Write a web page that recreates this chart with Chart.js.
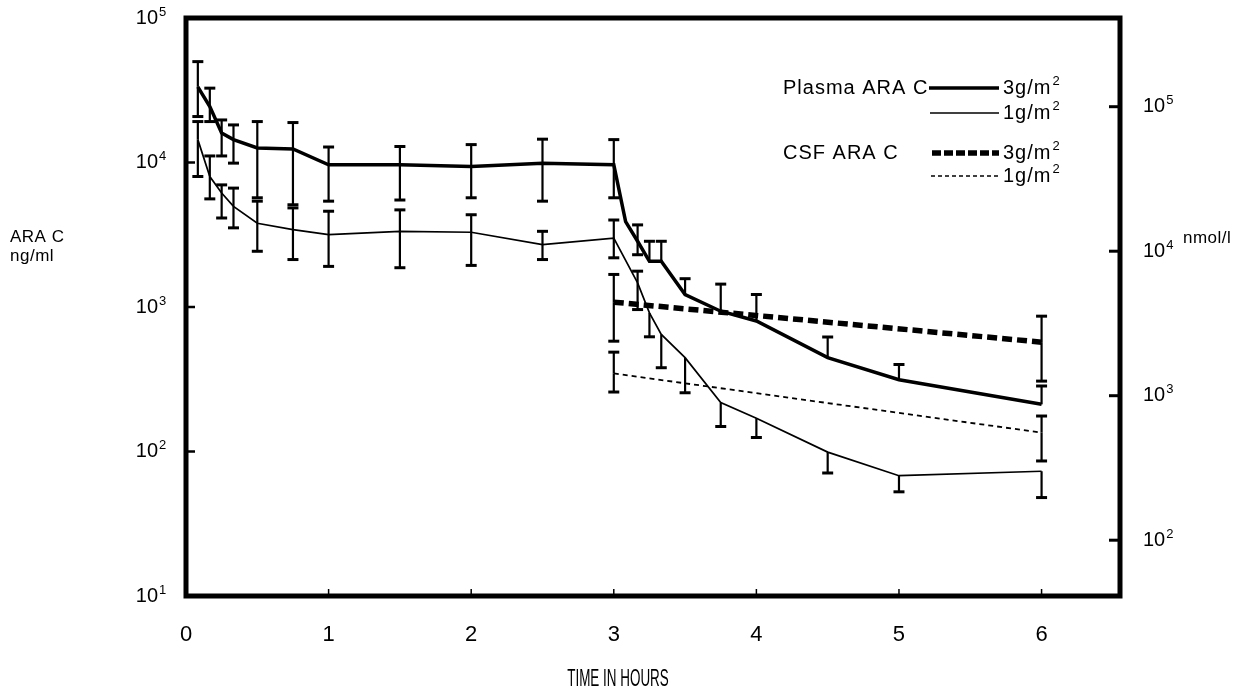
<!DOCTYPE html>
<html>
<head>
<meta charset="utf-8">
<script src="https://cdn.jsdelivr.net/npm/chart.js@4.4.1/dist/chart.umd.min.js"></script>
<style>
html,body{margin:0;padding:0;background:#fff;}
#wrap{width:1256px;height:691px;}
</style>
</head>
<body>
<div id="wrap"><canvas id="c" width="1256" height="691"></canvas></div>
<script>
// ---- data (time in hours, concentration in ng/ml) ----
const plasma3Time = [0.083, 0.167, 0.25, 0.333, 0.5, 0.75, 1, 1.5, 2, 2.5, 3, 3.083, 3.167, 3.25, 3.333, 3.5, 3.75, 4, 4.5, 5, 6];
const plasma3Mean = [33400, 24400, 16000, 14400, 12600, 12400, 9650, 9650, 9400, 9900, 9650, 3900, 2850, 2070, 2070, 1220, 935, 800, 446, 314, 212];
const plasma3High = [49900, 32700, 19700, 18200, 19200, 18900, 12800, 12900, 13300, 14500, 14400, null, 3700, 2850, 2850, 1570, 1440, 1220, 620, 400, 284];
const plasma3Low  = [20800, 19200, 11100, 9900, 5700, 5100, 5400, 5500, 5700, 5400, 5700, null, 2300, null, null, null, null, null, null, null, null];

const plasma1Time = [0.083, 0.167, 0.25, 0.333, 0.5, 0.75, 1, 1.5, 2, 2.5, 3, 3.167, 3.25, 3.333, 3.5, 3.75, 4, 4.5, 5, 6];
const plasma1Mean = [14400, 8000, 6150, 4970, 3800, 3430, 3170, 3340, 3290, 2700, 3000, 1470, 910, 646, 446, 218, 170, 99, 68, 73];
const plasma1High = [19200, 11100, 7000, 6650, 5400, 4850, 4600, 4700, 4350, 3340, 4000, 1770, null, null, null, null, null, null, null, null];
const plasma1Low  = [8000, 5600, 4130, 3530, 2430, 2130, 1910, 1870, 1940, 2130, 2190, 960, 622, 380, 255, 149, 125, 71, 52.6, 48];

const csf3Time = [3, 6];
const csf3Mean = [1080, 571];
const csf3High = [1680, 864];
const csf3Low  = [580, 307];

const csf1Time = [3, 6];
const csf1Mean = [347, 135];
const csf1High = [487, 176];
const csf1Low  = [258, 86];

const xTickValues = [0, 1, 2, 3, 4, 5, 6];
const yTickValues = [10, 100, 1000, 10000, 100000];
const y2TickValues = [100, 1000, 10000, 100000];
const NMOL_PER_NG = 4.11; // ARA-C molecular weight 243 g/mol

const FONT = "'Liberation Sans', Arial, Helvetica, sans-serif";
const TICK_SIZE = 20;
const EXP_SIZE = 13;

function pts(t, v){ return t.map((x,i)=>({x:x, y:v[i]})); }
function expOf(v){ return String(Math.round(Math.log10(v))); }
function noPad(s){ s.paddingTop = 0; s.paddingBottom = 0; s.paddingLeft = 0; s.paddingRight = 0; }

const datasets = [
  {label:'Plasma ARA C 3g/m\u00b2', data:pts(plasma3Time, plasma3Mean), borderColor:'#000', borderWidth:3.5, pointRadius:0, tension:0,
   errHigh:plasma3High, errLow:plasma3Low, errTime:plasma3Time},
  {label:'Plasma ARA C 1g/m\u00b2', data:pts(plasma1Time, plasma1Mean), borderColor:'#000', borderWidth:1.7, pointRadius:0, tension:0,
   errHigh:plasma1High, errLow:plasma1Low, errTime:plasma1Time},
  {label:'CSF ARA C 3g/m\u00b2', data:pts(csf3Time, csf3Mean), borderColor:'#000', borderWidth:5.5, borderDash:[10,5], pointRadius:0, tension:0,
   errHigh:csf3High, errLow:csf3Low, errTime:csf3Time},
  {label:'CSF ARA C 1g/m\u00b2', data:pts(csf1Time, csf1Mean), borderColor:'#000', borderWidth:1.8, borderDash:[5,4], pointRadius:0, tension:0,
   errHigh:csf1High, errLow:csf1Low, errTime:csf1Time}
];

const errorBars = {
  id:'errorBars',
  afterDatasetsDraw(chart){
    const ctx = chart.ctx, xs = chart.scales.x, ys = chart.scales.y;
    ctx.save();
    ctx.strokeStyle = '#000';
    chart.data.datasets.forEach(ds => {
      ds.errTime.forEach((t,i) => {
        const px = xs.getPixelForValue(t);
        const pm = ys.getPixelForValue(ds.data[i].y);
        const ends = [];
        if (ds.errHigh[i] != null) ends.push(ys.getPixelForValue(ds.errHigh[i]));
        if (ds.errLow[i] != null) ends.push(ys.getPixelForValue(ds.errLow[i]));
        ends.forEach(pe => {
          ctx.lineWidth = 2.2;
          ctx.beginPath(); ctx.moveTo(px, pm); ctx.lineTo(px, pe); ctx.stroke();
          ctx.lineWidth = 3;
          ctx.beginPath(); ctx.moveTo(px-5.5, pe); ctx.lineTo(px+5.5, pe); ctx.stroke();
        });
      });
    });
    ctx.restore();
  }
};

// draws text with a raised exponent, e.g. "3g/m" + "2"
function textWithSup(ctx, base, sup, x, y, size, supSize, spacing){
  ctx.font = size + 'px ' + FONT;
  ctx.letterSpacing = spacing + 'px';
  ctx.fillText(base, x, y);
  const w = ctx.measureText(base).width;
  ctx.font = supSize + 'px ' + FONT;
  ctx.fillText(sup, x + w + 1, y - size * 0.33);
  ctx.letterSpacing = '0px';
}

const frameAndText = {
  id:'frameAndText',
  afterDraw(chart){
    const ctx = chart.ctx, a = chart.chartArea;
    const xs = chart.scales.x, ys = chart.scales.y, y2 = chart.scales.y2;
    ctx.save();
    ctx.strokeStyle = '#000';
    ctx.fillStyle = '#000';
    // frame
    ctx.lineWidth = 5;
    ctx.strokeRect(a.left, a.top, a.right - a.left, a.bottom - a.top);
    // inner ticks left
    ctx.lineWidth = 2.5;
    [100, 1000, 10000].forEach(v => {
      const p = ys.getPixelForValue(v);
      ctx.beginPath(); ctx.moveTo(a.left, p); ctx.lineTo(a.left + 9, p); ctx.stroke();
    });
    // inner ticks right
    ctx.lineWidth = 3;
    y2TickValues.forEach(v => {
      const p = y2.getPixelForValue(v);
      ctx.beginPath(); ctx.moveTo(a.right, p); ctx.lineTo(a.right - 11, p); ctx.stroke();
    });
    // bottom ticks
    ctx.lineWidth = 1.5;
    xTickValues.slice(1).forEach(v => {
      const p = xs.getPixelForValue(v);
      ctx.beginPath(); ctx.moveTo(p, a.bottom); ctx.lineTo(p, a.bottom - 7); ctx.stroke();
    });
    // exponents of the power-of-ten tick labels
    ctx.textBaseline = 'middle';
    ctx.textAlign = 'left';
    ctx.font = EXP_SIZE + 'px ' + FONT;
    const lx = a.left - ys.options.ticks.padding + 1;
    yTickValues.forEach(v => {
      ctx.fillText(expOf(v), lx, ys.getPixelForValue(v) - 6);
    });
    ctx.font = TICK_SIZE + 'px ' + FONT;
    const w10 = ctx.measureText('10').width;
    ctx.font = EXP_SIZE + 'px ' + FONT;
    const rx = a.right + y2.options.ticks.padding + w10 + 1;
    y2TickValues.forEach(v => {
      ctx.fillText(expOf(v), rx, y2.getPixelForValue(v) - 6);
    });
    // axis titles
    ctx.font = '17px ' + FONT;
    ctx.letterSpacing = '0.5px';
    ctx.fillText('ARA C', 10, 237);
    ctx.fillText('ng/ml', 10, 256);
    ctx.fillText('nmol/l', 1183, 238);
    ctx.letterSpacing = '0px';
    // x title, condensed
    ctx.save();
    ctx.font = '24px ' + FONT;
    ctx.textAlign = 'center';
    ctx.translate(618, 679);
    ctx.scale(0.56, 1);
    ctx.fillText('TIME IN HOURS', 0, 0);
    ctx.restore();
    // legend
    ctx.textAlign = 'left';
    ctx.font = '20px ' + FONT;
    ctx.letterSpacing = '1px';
    ctx.fillText('Plasma ARA C', 783, 88);
    ctx.fillText('CSF ARA C', 783, 153);
    ctx.letterSpacing = '0px';
    textWithSup(ctx, '3g/m', '2', 1003, 88, 20, 13, 1);
    textWithSup(ctx, '1g/m', '2', 1003, 113, 20, 13, 1);
    textWithSup(ctx, '3g/m', '2', 1003, 153, 20, 13, 1);
    textWithSup(ctx, '1g/m', '2', 1003, 176, 20, 13, 1);
    const sample = (y, w, dash, x0, x1) => {
      ctx.lineWidth = w; ctx.setLineDash(dash);
      ctx.beginPath(); ctx.moveTo(x0, y); ctx.lineTo(x1, y); ctx.stroke();
    };
    sample(88, 3.5, [], 929, 999);
    sample(113, 1.6, [], 930, 999);
    sample(153, 5.5, [9,3], 932, 999);
    sample(176, 1.6, [4,3], 931, 999);
    ctx.setLineDash([]);
    ctx.restore();
  }
};

new Chart(document.getElementById('c'), {
  type:'line',
  data:{datasets:datasets},
  plugins:[errorBars, frameAndText],
  options:{
    responsive:false,
    animation:false,
    devicePixelRatio:1,
    layout:{padding:{top:18, left:0, right:0, bottom:0}},
    plugins:{legend:{display:false}, tooltip:{enabled:false}},
    scales:{
      x:{
        type:'linear', position:'bottom', min:0, max:6.55,
        grid:{display:false, drawTicks:false}, border:{display:false},
        afterBuildTicks(s){ s.ticks = xTickValues.map(v=>({value:v})); },
        afterFit(s){ s.height = 95; noPad(s); },
        ticks:{color:'#000', padding:26, maxRotation:0, font:{family:FONT, size:22}, callback:v=>String(v)}
      },
      y:{
        type:'logarithmic', position:'left', min:10, max:100000,
        grid:{display:false, drawTicks:false}, border:{display:false},
        afterBuildTicks(s){ s.ticks = yTickValues.map(v=>({value:v})); },
        afterFit(s){ s.width = 186; noPad(s); },
        ticks:{color:'#000', padding:28, font:{family:FONT, size:TICK_SIZE}, callback:v=>'10'}
      },
      y2:{
        type:'logarithmic', position:'right', min:10*NMOL_PER_NG, max:100000*NMOL_PER_NG,
        grid:{display:false, drawTicks:false}, border:{display:false},
        afterBuildTicks(s){ s.ticks = y2TickValues.map(v=>({value:v})); },
        afterFit(s){ s.width = 136; noPad(s); },
        ticks:{color:'#000', padding:23, font:{family:FONT, size:TICK_SIZE}, callback:v=>'10'}
      }
    }
  }
});
</script>
</body>
</html>
